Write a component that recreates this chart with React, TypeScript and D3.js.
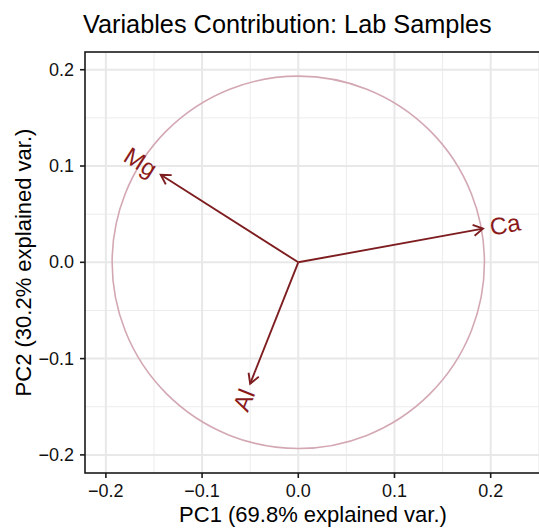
import React from 'react'
import { scaleLinear, format } from 'd3'

// loadings
const variables = ['Ca', 'Mg', 'Al']
const pc1 = [0.192, -0.143, -0.050]
const pc2 = [0.035, 0.091, -0.126]
const circleRadius = 0.1935

const majorTicks = [-0.2, -0.1, 0, 0.1, 0.2]
const minorTicksX = [-0.15, -0.05, 0.05, 0.15, 0.25]
const minorTicksY = [-0.15, -0.05, 0.05, 0.15]

const W = 539, H = 529
const m = { l: 85, r: 541, t: 52, b: 473 }
const font = '"Liberation Sans", Arial, Helvetica, sans-serif'
const arrowCol = '#7e1d1f'
const labelCol = '#8b1a1a'

const App = () => {
  const x = scaleLinear().domain([-0.2217, 0.2523]).range([m.l, m.r])
  const y = scaleLinear().domain([-0.2188, 0.2184]).range([m.b, m.t])
  const fmt = format('.1f')
  const r = x(circleRadius) - x(0)

  const arrows = variables.map((v, i) => {
    const x0 = x(0), y0 = y(0), x1 = x(pc1[i]), y1 = y(pc2[i])
    const a = Math.atan2(y1 - y0, x1 - x0)
    const hl = 11, ha = Math.PI / 6
    const head = `M${x1 - hl * Math.cos(a - ha)},${y1 - hl * Math.sin(a - ha)}L${x1},${y1}L${x1 - hl * Math.cos(a + ha)},${y1 - hl * Math.sin(a + ha)}`
    const deg = Math.atan(pc2[i] / pc1[i]) * 180 / Math.PI
    const pos = pc1[i] > 0
    return (
      <g key={v}>
        <line x1={x0} y1={y0} x2={x1} y2={y1} stroke={arrowCol} strokeWidth={1.9} />
        <path d={head} fill='none' stroke={arrowCol} strokeWidth={1.9} />
        <text transform={`translate(${x1},${y1}) rotate(${-deg})`} dx={pos ? 7 : -7}
          textAnchor={pos ? 'start' : 'end'} dominantBaseline='central'
          fontSize={24} fill={labelCol}>{v}</text>
      </g>
    )
  })

  return (
    <svg width={W} height={H} style={{ position: 'absolute', left: 0, top: 0, background: '#fff' }} fontFamily={font}>
      <defs>
        <clipPath id='panel'><rect x={m.l} y={m.t} width={m.r - m.l} height={m.b - m.t} /></clipPath>
      </defs>
      <text x={m.l - 2} y={33} fontSize={25.3} fill='#000'>Variables Contribution: Lab Samples</text>
      <g clipPath='url(#panel)'>
        {minorTicksX.map(t => <line key={'mx' + t} x1={x(t)} x2={x(t)} y1={m.t} y2={m.b} stroke='#ececec' strokeWidth={1} />)}
        {minorTicksY.map(t => <line key={'my' + t} y1={y(t)} y2={y(t)} x1={m.l} x2={m.r} stroke='#ececec' strokeWidth={1} />)}
        {majorTicks.map(t => <line key={'gx' + t} x1={x(t)} x2={x(t)} y1={m.t} y2={m.b} stroke='#e8e8e8' strokeWidth={2} />)}
        {majorTicks.map(t => <line key={'gy' + t} y1={y(t)} y2={y(t)} x1={m.l} x2={m.r} stroke='#e8e8e8' strokeWidth={2} />)}
        <circle cx={x(0)} cy={y(0)} r={r} fill='none' stroke='#d3a8b3' strokeWidth={1.6} />
        {arrows}
      </g>
      <rect x={m.l} y={m.t} width={m.r - m.l} height={m.b - m.t} fill='none' stroke='#1a1a1a' strokeWidth={1.6} />
      {majorTicks.map(t => (
        <g key={'tx' + t}>
          <line x1={x(t)} x2={x(t)} y1={m.b} y2={m.b + 5} stroke='#1a1a1a' strokeWidth={1.6} />
          <text x={x(t)} y={497} textAnchor='middle' fontSize={18} fill='#111'>{fmt(t)}</text>
        </g>
      ))}
      {majorTicks.map(t => (
        <g key={'ty' + t}>
          <line x1={m.l - 5} x2={m.l} y1={y(t)} y2={y(t)} stroke='#1a1a1a' strokeWidth={1.6} />
          <text x={74} y={y(t)} textAnchor='end' dominantBaseline='central' fontSize={18} fill='#111'>{fmt(t)}</text>
        </g>
      ))}
      <text x={(m.l + m.r) / 2} y={522} textAnchor='middle' fontSize={22} fill='#000'>PC1 (69.8% explained var.)</text>
      <text transform={`translate(31,${(m.t + m.b) / 2}) rotate(-90)`} textAnchor='middle' fontSize={22} fill='#000'>PC2 (30.2% explained var.)</text>
    </svg>
  )
}

export default App
